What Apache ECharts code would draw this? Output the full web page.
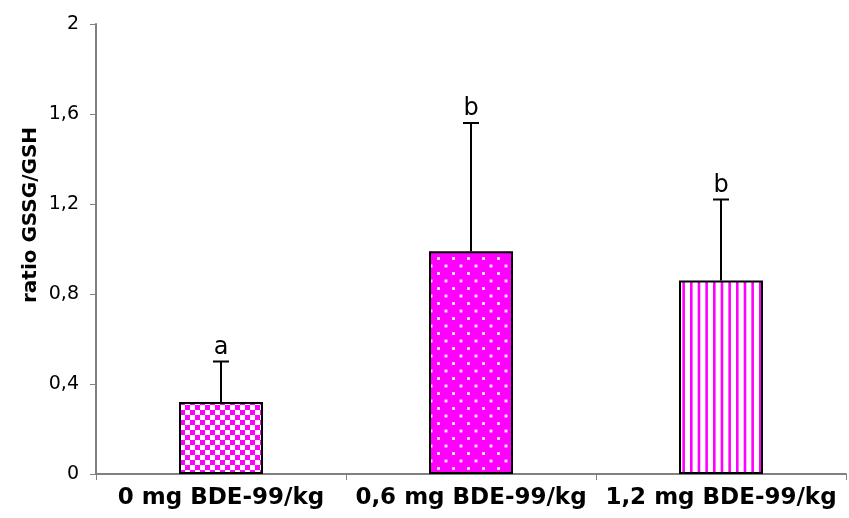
<!DOCTYPE html>
<html>
<head>
<meta charset="utf-8">
<script src="https://cdn.jsdelivr.net/npm/echarts@6/dist/echarts.min.js"></script>
<style>
  html, body { margin: 0; padding: 0; background: #fff; }
  #chart { width: 849px; height: 518px; }
</style>
</head>
<body>
<div id="chart"></div>
<script>
// Dose groups and measured GSSG/GSH ratios
const categories = ['0 mg BDE-99/kg', '0,6 mg BDE-99/kg', '1,2 mg BDE-99/kg'];
const means = [0.32, 0.99, 0.86];
const upperError = [0.50, 1.56, 1.22];   // mean + SD
const groupLetters = ['a', 'b', 'b'];
const yMin = 0, yMax = 2, yStep = 0.4;
const yTitle = 'ratio GSSG/GSH';

const MAGENTA = '#ff00ff';

// Fill patterns drawn on small tiles
function checkerTile() {
  const c = document.createElement('canvas');
  c.width = 10; c.height = 10;
  const g = c.getContext('2d');
  g.fillStyle = '#fff'; g.fillRect(0, 0, 10, 10);
  g.fillStyle = MAGENTA;
  g.fillRect(0, 0, 5, 5);
  g.fillRect(5, 5, 5, 5);
  return c;
}
function dotTile() {
  const c = document.createElement('canvas');
  c.width = 15; c.height = 15;
  const g = c.getContext('2d');
  g.fillStyle = MAGENTA; g.fillRect(0, 0, 15, 15);
  g.fillStyle = '#ffc8ff';
  g.fillRect(2, 2, 3, 3); g.fillRect(9.5, 9.5, 3, 3);
  g.fillStyle = '#fff';
  g.fillRect(3, 3, 1.5, 1.5); g.fillRect(10.5, 10.5, 1.5, 1.5);
  return c;
}
function stripeTile() {
  const c = document.createElement('canvas');
  c.width = 23; c.height = 4;
  const g = c.getContext('2d');
  g.fillStyle = '#fff'; g.fillRect(0, 0, 23, 4);
  g.fillStyle = MAGENTA;
  for (let i = 0; i < 3; i++) g.fillRect(i * 23 / 3, 0, 2.6, 4);
  return c;
}
const fills = [checkerTile(), dotTile(), stripeTile()].map(t => ({ image: t, repeat: 'repeat' }));

const chart = echarts.init(document.getElementById('chart'), null, { renderer: 'canvas' });

const option = {
  animation: false,
  backgroundColor: '#fff',
  grid: { left: 96, right: 3, top: 24, bottom: 44, containLabel: false },
  graphic: [{
    // vertical axis title
    type: 'text',
    x: 31, y: 215,
    rotation: Math.PI / 2,
    style: { text: yTitle, fill: '#000', font: 'bold 20px "DejaVu Sans"',
             textAlign: 'center', textVerticalAlign: 'middle' }
  }],
  xAxis: {
    type: 'category',
    data: categories,
    boundaryGap: true,
    axisLine: { lineStyle: { color: '#808080', width: 2 } },
    axisTick: { show: true, inside: false, length: 6, alignWithLabel: false, lineStyle: { color: '#808080', width: 1 } },
    axisLabel: { interval: 0, color: '#000', fontFamily: 'DejaVu Sans', fontWeight: 'bold', fontSize: 23, margin: 13 }
  },
  yAxis: {
    type: 'value',
    min: yMin, max: yMax, interval: yStep,
    splitLine: { show: false },
    axisLine: { show: true, lineStyle: { color: '#808080', width: 2 } },
    axisTick: { show: true, inside: false, length: 6, lineStyle: { color: '#808080', width: 1 } },
    axisLabel: {
      color: '#000', fontFamily: 'DejaVu Sans', fontSize: 19, margin: 17,
      formatter: v => String(Math.round(v * 10) / 10).replace('.', ',')
    }
  },
  series: [
    {
      type: 'bar',
      barWidth: 84,
      data: means.map((v, i) => ({
        value: v,
        itemStyle: { color: fills[i], borderColor: '#000', borderWidth: 2 }
      })),
      z: 2
    },
    {
      // upper whisker with cap and group letter
      type: 'custom',
      z: 5,
      data: means.map((m, i) => [i, upperError[i], m]),
      renderItem: function (params, api) {
        const top = api.coord([api.value(0), api.value(1)]);
        const base = api.coord([api.value(0), api.value(2)]);
        const half = 8;
        return {
          type: 'group',
          children: [
            { type: 'line', shape: { x1: top[0], y1: base[1], x2: top[0], y2: top[1] },
              style: { stroke: '#000', lineWidth: 2 } },
            { type: 'line', shape: { x1: top[0] - half, y1: top[1], x2: top[0] + half, y2: top[1] },
              style: { stroke: '#000', lineWidth: 2 } },
            { type: 'text', x: top[0], y: top[1] - 2,
              style: { text: groupLetters[params.dataIndex], fill: '#000', font: '24px "DejaVu Sans"',
                       textAlign: 'center', textVerticalAlign: 'bottom' } }
          ]
        };
      }
    }
  ]
};
chart.setOption(option);
</script>
</body>
</html>
